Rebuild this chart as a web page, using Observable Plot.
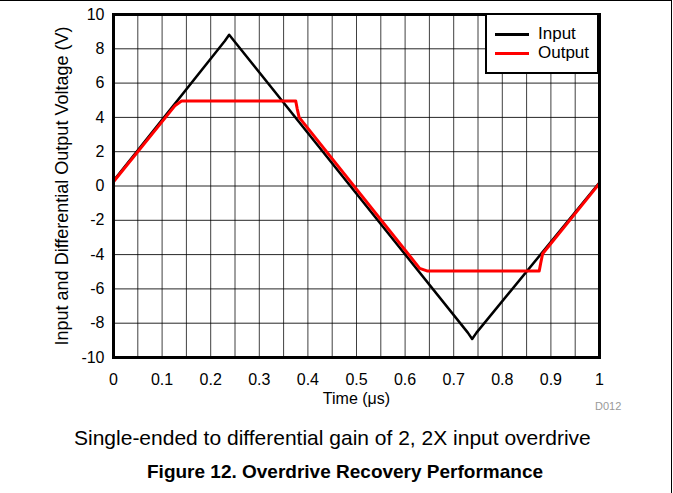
<!DOCTYPE html>
<html><head><meta charset="utf-8">
<script src="https://cdn.jsdelivr.net/npm/d3@7"></script>
<script src="https://cdn.jsdelivr.net/npm/@observablehq/plot@0.6"></script>
<style>
body{margin:0;background:#fff;font-family:"Liberation Sans",Arial,sans-serif;}
#wrap{position:relative;width:673px;height:493px;overflow:hidden;background:#fff;}
#box{position:absolute;left:0;top:0;width:672px;height:493px;border-top:1px solid #000;border-right:1px solid #000;box-sizing:border-box;pointer-events:none;}
#chart{position:absolute;left:0;top:0;}
#legend{position:absolute;left:485px;top:13px;width:114px;height:61px;box-sizing:border-box;border:2.5px solid #000;background:#fff;}
.lg{position:absolute;left:8px;width:34px;height:2.5px;}
.lt{position:absolute;left:51px;font-size:17px;line-height:18px;color:#000;}
#code{position:absolute;left:595px;top:400px;font-size:11px;color:#999;}
#sub{position:absolute;left:74px;top:426px;font-size:21px;line-height:24px;white-space:nowrap;}
#title{position:absolute;left:147px;top:461px;font-size:19px;font-weight:bold;line-height:22px;white-space:nowrap;}
</style></head>
<body>
<div id="wrap">
  <div id="chart"></div>
  <div id="legend">
    <div class="lg" style="top:18px;background:#000"></div>
    <div class="lt" style="top:10px">Input</div>
    <div class="lg" style="top:37px;background:#ff0000"></div>
    <div class="lt" style="top:29px">Output</div>
  </div>
  <div id="code">D012</div>
  <div id="sub">Single-ended to differential gain of 2, 2X input overdrive</div>
  <div id="title">Figure 12. Overdrive Recovery Performance</div>
  <div id="box"></div>
</div>
<script>
// Input waveform (time in µs, voltage in V)
const inputT = [0, 0.229, 0.238, 0.247, 0.729, 0.738, 0.747, 1.0];
const inputV = [0.3, 8.45, 8.82, 8.5, -8.55, -8.92, -8.55, 0.2];
// Differential output waveform
const outputT = [0, 0.127, 0.14, 0.375, 0.378, 0.382, 0.63, 0.645, 0.876, 0.879, 0.883, 1.0];
const outputV = [0.25, 4.7, 4.95, 4.95, 4.5, 4.0, -4.8, -4.95, -4.95, -4.5, -3.95, 0.15];

const xTicks = [0, 0.1, 0.2, 0.3, 0.4, 0.5, 0.6, 0.7, 0.8, 0.9, 1];
const xGrid = [0.05, 0.1, 0.15, 0.2, 0.25, 0.3, 0.35, 0.4, 0.45, 0.5, 0.55, 0.6, 0.65, 0.7, 0.75, 0.8, 0.85, 0.9, 0.95];
const yTicks = [-10, -8, -6, -4, -2, 0, 2, 4, 6, 8, 10];
const yGrid = [-8, -6, -4, -2, 0, 2, 4, 6, 8];
const xLabel = "Time (\u03bcs)";
const yLabel = "Input and Differential Output Voltage (V)";

const inputData = inputT.map((t, i) => ({t, v: inputV[i]}));
const outputData = outputT.map((t, i) => ({t, v: outputV[i]}));
const fmt = d => String(d);

const plot = Plot.plot({
  width: 673,
  height: 420,
  marginLeft: 113,
  marginRight: 74,
  marginTop: 14,
  marginBottom: 63,
  style: {fontFamily: '"Liberation Sans", Arial, sans-serif', fontSize: "16px", background: "transparent", color: "#000"},
  x: {domain: [0, 1]},
  y: {domain: [-10, 10]},
  marks: [
    Plot.ruleX(xGrid, {stroke: "#000", strokeOpacity: 0.75, strokeWidth: 1}),
    Plot.ruleY(yGrid, {stroke: "#000", strokeOpacity: 0.85, strokeWidth: 1}),
    Plot.line(inputData, {x: "t", y: "v", stroke: "#000", strokeWidth: 2.5, curve: "linear", strokeLinejoin: "round"}),
    Plot.line(outputData, {x: "t", y: "v", stroke: "#ff0000", strokeWidth: 3, curve: "linear", strokeLinejoin: "round"}),
    Plot.frame({stroke: "#000", strokeWidth: 3}),
    Plot.axisX({ticks: xTicks, tickFormat: fmt, tickSize: 0, tickPadding: 16, label: null, fontSize: 16}),
    Plot.axisY({ticks: yTicks, tickFormat: fmt, tickSize: 0, tickPadding: 9, label: null, fontSize: 16}),
    Plot.text([xLabel], {text: d => d, frameAnchor: "bottom", dy: 41, lineAnchor: "middle", textAnchor: "middle", fontSize: 16}),
    Plot.text([yLabel], {text: d => d, frameAnchor: "left", dx: -51, rotate: -90, textAnchor: "middle", lineAnchor: "middle", fontSize: 18})
  ]
});
document.getElementById("chart").appendChild(plot);
</script>
</body></html>
